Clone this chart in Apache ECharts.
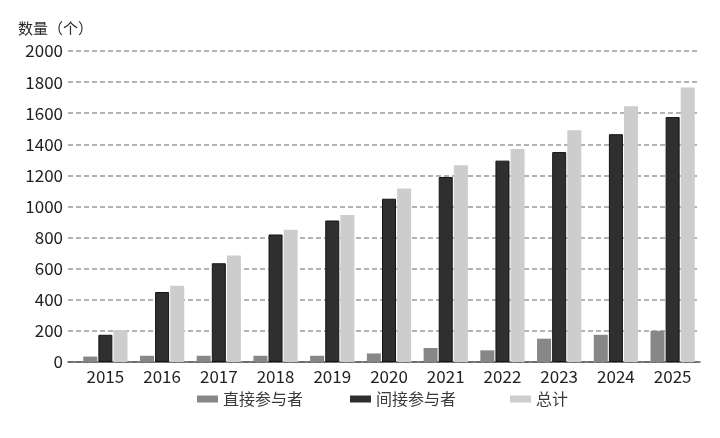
<!DOCTYPE html>
<html>
<head>
<meta charset="utf-8">
<script src="https://cdn.jsdelivr.net/npm/echarts@6/dist/echarts.min.js"></script>
<style>html,body{margin:0;padding:0;background:#fff}#c{width:720px;height:438px}</style>
</head>
<body>
<div id="c"></div>
<script>
const categories = ['2015','2016','2017','2018','2019','2020','2021','2022','2023','2024','2025'];
const directValues = [35, 40, 40, 40, 40, 55, 90, 75, 150, 175, 200];
const indirectValues = [175, 450, 635, 820, 910, 1050, 1190, 1295, 1350, 1465, 1575];
const totalValues = [205, 490, 685, 850, 945, 1115, 1265, 1370, 1490, 1645, 1765];
const seriesNames = ['直接参与者', '间接参与者', '总计'];
const yTicks = { min: 0, max: 2000, interval: 200 };
const axisTitle = '数量（个）';

const font = '"Noto Sans CJK SC", "Noto Sans", sans-serif';
const colors = ['#878787', '#2f2f2f', '#cdcdcd'];

const chart = echarts.init(document.getElementById('c'));
const legendPos = [197, 350, 510];
chart.setOption({
  animation: false,
  textStyle: { fontFamily: font },
  title: {
    text: axisTitle, left: 18, top: 21, padding: 0,
    textStyle: { fontSize: 15, fontWeight: 'normal', color: '#2a2a2a', fontFamily: font }
  },
  legend: seriesNames.map((n, i) => ({
    data: [{ name: n, itemStyle: { borderWidth: 0 } }], left: legendPos[i], top: 391, padding: 0,
    itemWidth: 21, itemHeight: 7,
    textStyle: { fontSize: 16, color: '#3a3a3a', fontFamily: font },
    icon: 'rect', itemGap: 4
  })),
  grid: [
    { left: 68, right: 20, top: 51, bottom: 76 },
    { left: 77, right: 19, top: 51, bottom: 76 }
  ],
  xAxis: [
    { gridIndex: 0, type: 'value', min: 0, max: 1, show: true,
      axisLine: { show: true, lineStyle: { color: '#555', width: 1.5 } },
      axisTick: { show: false }, axisLabel: { show: false }, splitLine: { show: false } },
    { gridIndex: 1, type: 'category', data: categories,
      axisLine: { show: false }, axisTick: { show: false },
      axisLabel: { fontSize: 17, color: '#222', margin: 6, fontFamily: font } }
  ],
  yAxis: [
    { gridIndex: 0, type: 'value', min: yTicks.min, max: yTicks.max, interval: yTicks.interval,
      axisLine: { show: false }, axisTick: { show: false },
      axisLabel: { fontSize: 17, color: '#222', margin: 5, fontFamily: font, formatter: v => String(v) },
      splitLine: { show: true, lineStyle: { type: [5, 3], color: '#9a9a9a', width: 1.5 } } },
    { gridIndex: 1, type: 'value', min: yTicks.min, max: yTicks.max, interval: yTicks.interval, show: false,
      splitLine: { show: false } }
  ],
  series: [
    { name: seriesNames[0], type: 'bar', xAxisIndex: 1, yAxisIndex: 1, data: directValues,
      barWidth: 14, barGap: '8%', itemStyle: { color: colors[0] } },
    { name: seriesNames[1], type: 'bar', xAxisIndex: 1, yAxisIndex: 1, data: indirectValues,
      barWidth: 14, barGap: '8%', itemStyle: { color: colors[1], borderColor: '#141414', borderWidth: 1 } },
    { name: seriesNames[2], type: 'bar', xAxisIndex: 1, yAxisIndex: 1, data: totalValues,
      barWidth: 14, barGap: '8%', itemStyle: { color: colors[2] } }
  ]
});
</script>
</body>
</html>
